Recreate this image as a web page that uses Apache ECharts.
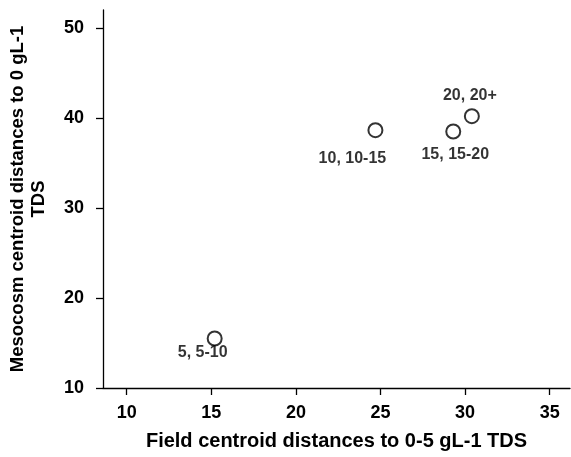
<!DOCTYPE html>
<html><head><meta charset="utf-8">
<script src="https://cdn.jsdelivr.net/npm/echarts@6/dist/echarts.min.js"></script>
<style>html,body{margin:0;padding:0;background:#fff}#c{width:571px;height:457px}</style>
</head><body><div id="c"></div>
<script>
const xValues = [15.2, 24.7, 29.3, 30.4];
const yValues = [15.5, 38.65, 38.5, 40.2];
const pointLabels = ['5, 5-10', '10, 10-15', '15, 15-20', '20, 20+'];
const xTicks = [10, 15, 20, 25, 30, 35];
const yTicks = [10, 20, 30, 40, 50];

const labelOffsets = [[-12, 14], [-23, 28], [2, 23], [-2, -21]];
const font = '"Liberation Sans", Arial, sans-serif';
const chart = echarts.init(document.getElementById('c'));
chart.setOption({
  animation: false,
  backgroundColor: '#fff',
  grid: { left: 103, right: 1, top: 10, bottom: 69, containLabel: false, outerBoundsMode: 'none' },
  xAxis: {
    type: 'value', min: 8.6, max: 36.2, interval: 5,
    name: 'Field centroid distances to 0-5 gL-1 TDS',
    nameLocation: 'middle', nameGap: 43,
    nameTextStyle: { fontFamily: font, fontWeight: 'bold', fontSize: 20, color: '#000' },
    axisLine: { onZero: false, lineStyle: { color: '#000', width: 1.3 } },
    axisTick: { show: true, length: 7, lineStyle: { color: '#000', width: 1.3 }, customValues: xTicks },
    axisLabel: { fontFamily: font, fontWeight: 'bold', fontSize: 18, color: '#000', margin: 16, customValues: xTicks },
    splitLine: { show: false }
  },
  yAxis: {
    type: 'value', min: 10, max: 52, interval: 10,
    name: 'Mesocosm centroid distances to 0 gL-1\nTDS',
    nameLocation: 'middle', nameGap: 54, nameRotate: 90,
    nameTextStyle: { fontFamily: font, fontWeight: 'bold', fontSize: 18.5, color: '#000', lineHeight: 21 },
    axisLine: { onZero: false, lineStyle: { color: '#000', width: 1.3 } },
    axisTick: { show: true, length: 7, lineStyle: { color: '#000', width: 1.3 }, customValues: yTicks },
    axisLabel: { fontFamily: font, fontWeight: 'bold', fontSize: 18, color: '#000', margin: 19, customValues: yTicks },
    splitLine: { show: false }
  },
  series: [{
    type: 'scatter',
    symbol: 'circle', symbolSize: 14,
    itemStyle: { color: '#fff', borderColor: '#000', borderWidth: 2 },
    data: xValues.map((x, i) => ({
      value: [x, yValues[i]],
      label: {
        show: true, formatter: pointLabels[i], position: 'inside',
        offset: labelOffsets[i],
        fontFamily: font, fontWeight: 'bold', fontSize: 16, color: '#000'
      }
    }))
  }]
});
</script></body></html>
